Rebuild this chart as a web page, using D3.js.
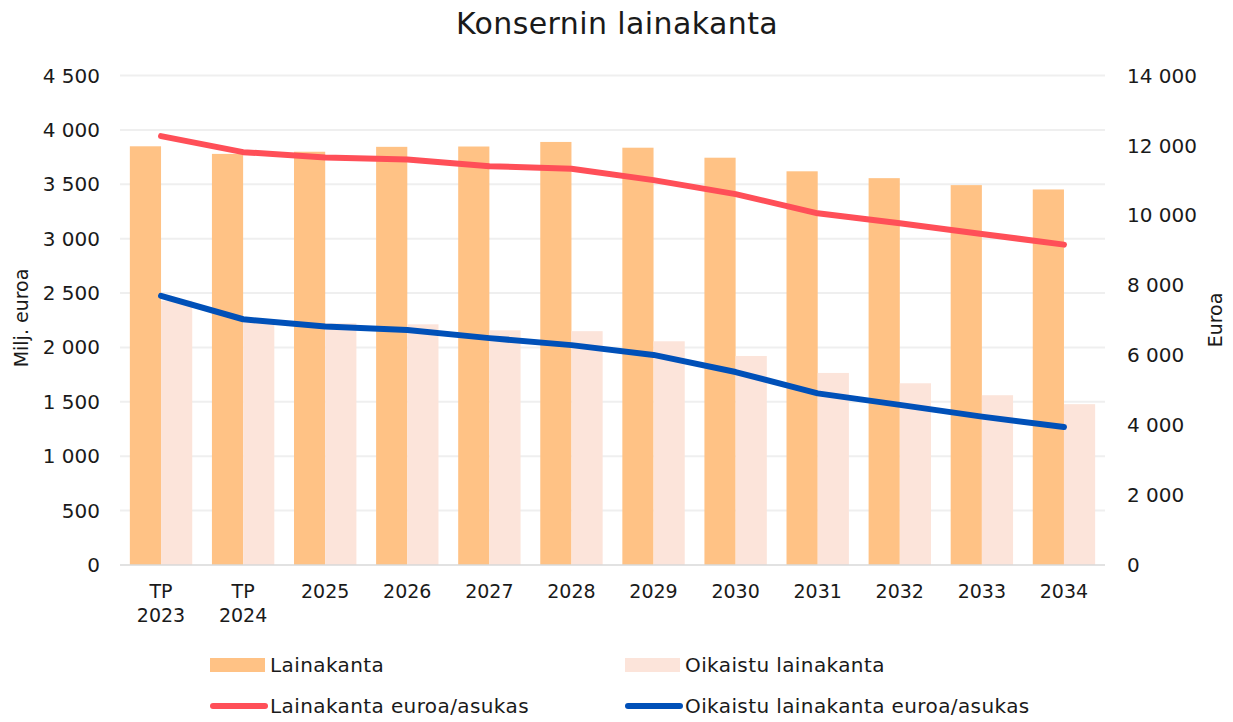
<!DOCTYPE html>
<html>
<head>
<meta charset="utf-8">
<script src="https://cdn.jsdelivr.net/npm/d3@7"></script>
<style>
  body { margin: 0; background: #fff; }
  svg { display: block; font-family: "DejaVu Sans", Inter, sans-serif; }
</style>
</head>
<body>
<div id="chart"></div>
<script>
// ── Data ────────────────────────────────────────────────────────
const categories = ['TP 2023', 'TP 2024', '2025', '2026', '2027', '2028', '2029', '2030', '2031', '2032', '2033', '2034'];
const lainakanta = [3850, 3780, 3800, 3845, 3848, 3890, 3837, 3745, 3620, 3557, 3493, 3453];
const oikaistuLainakanta = [2430, 2240, 2222, 2213, 2158, 2150, 2057, 1922, 1766, 1671, 1561, 1479];
const euroaAsukas = [12270, 11810, 11660, 11600, 11410, 11335, 11010, 10610, 10060, 9775, 9470, 9165];
const oikaistuEuroaAsukas = [7700, 7030, 6820, 6720, 6490, 6290, 6010, 5520, 4910, 4580, 4245, 3945];
const leftTicks = d3.range(0, 4501, 500);
const rightTicks = d3.range(0, 14001, 2000);

const COLORS = {
    bar: '#FFC285',
    barAdj: '#FCE4DA',
    line: '#FF4F58',
    lineAdj: '#0050B8',
    grid: '#EFEFEF',
    text: '#1a1a1a'
};

const width = 1233, height = 722;
const margin = { top: 75.6, right: 128, bottom: 157, left: 120 };
const plotW = width - margin.left - margin.right;
const plotH = height - margin.top - margin.bottom;

const svg = d3.select('#chart').append('svg')
    .attr('width', width)
    .attr('height', height);

// Title
svg.append('text')
    .attr('x', 617).attr('y', 34)
    .attr('text-anchor', 'middle')
    .attr('font-size', 30)
    .attr('letter-spacing', 0.4)
    .attr('fill', COLORS.text)
    .text('Konsernin lainakanta');

const g = svg.append('g').attr('transform', `translate(${margin.left},${margin.top})`);

// ── Scales ──────────────────────────────────────────────────────
const x = d3.scaleBand().domain(categories).range([0, plotW]).paddingInner(0.24).paddingOuter(0.12);
const xSub = d3.scaleBand().domain(['a', 'b']).range([0, x.bandwidth()]);
const yL = d3.scaleLinear().domain([0, 4500]).range([plotH, 0]);
const yR = d3.scaleLinear().domain([0, 14000]).range([plotH, 0]);
const fmt = v => d3.format(',')(v).replace(/,/g, ' ');

// Gridlines
g.selectAll('.grid')
    .data(leftTicks.slice(1))
    .join('line')
    .attr('x1', 0).attr('x2', plotW)
    .attr('y1', d => yL(d)).attr('y2', d => yL(d))
    .attr('stroke', COLORS.grid)
    .attr('stroke-width', 2);

// Left axis labels
g.selectAll('.yl')
    .data(leftTicks)
    .join('text')
    .attr('x', -20).attr('y', d => yL(d))
    .attr('dy', '0.35em')
    .attr('text-anchor', 'end')
    .attr('font-size', 20)
    .attr('fill', COLORS.text)
    .text(fmt);

// Right axis labels
g.selectAll('.yr')
    .data(rightTicks)
    .join('text')
    .attr('x', plotW + 22).attr('y', d => yR(d))
    .attr('dy', '0.35em')
    .attr('text-anchor', 'start')
    .attr('font-size', 20)
    .attr('fill', COLORS.text)
    .text(fmt);

// Axis titles
svg.append('text')
    .attr('transform', `translate(28,318) rotate(-90)`)
    .attr('text-anchor', 'middle')
    .attr('font-size', 19)
    .attr('fill', COLORS.text)
    .text('Milj. euroa');
svg.append('text')
    .attr('transform', `translate(1222,320) rotate(-90)`)
    .attr('text-anchor', 'middle')
    .attr('font-size', 19)
    .attr('fill', COLORS.text)
    .text('Euroa');

// ── Bars ────────────────────────────────────────────────────────
g.selectAll('.bar')
    .data(lainakanta)
    .join('rect')
    .attr('x', (d, i) => x(categories[i]) + xSub('a'))
    .attr('y', d => yL(d))
    .attr('width', xSub.bandwidth())
    .attr('height', d => plotH - yL(d))
    .attr('fill', COLORS.bar);

g.selectAll('.bar-adj')
    .data(oikaistuLainakanta)
    .join('rect')
    .attr('x', (d, i) => x(categories[i]) + xSub('b'))
    .attr('y', d => yL(d))
    .attr('width', xSub.bandwidth())
    .attr('height', d => plotH - yL(d))
    .attr('fill', COLORS.barAdj);

// Baseline
g.append('line')
    .attr('x1', 0).attr('x2', plotW)
    .attr('y1', plotH).attr('y2', plotH)
    .attr('stroke', '#D9D9D9')
    .attr('stroke-width', 1.5);

// ── Lines ───────────────────────────────────────────────────────
const line = d3.line()
    .x((d, i) => x(categories[i]) + x.bandwidth() / 2)
    .y(d => yR(d));

[[euroaAsukas, COLORS.line], [oikaistuEuroaAsukas, COLORS.lineAdj]].forEach(([vals, col]) => {
    g.append('path')
        .attr('d', line(vals))
        .attr('fill', 'none')
        .attr('stroke', col)
        .attr('stroke-width', 6)
        .attr('stroke-linecap', 'round')
        .attr('stroke-linejoin', 'round');
});

// ── X labels ────────────────────────────────────────────────────
categories.forEach(c => {
    const parts = c.split(' ');
    const t = g.append('text')
        .attr('x', x(c) + x.bandwidth() / 2)
        .attr('y', plotH + 33)
        .attr('text-anchor', 'middle')
        .attr('font-size', 19)
        .attr('fill', COLORS.text);
    parts.forEach((p, j) => {
        t.append('tspan')
            .attr('x', x(c) + x.bandwidth() / 2)
            .attr('dy', j === 0 ? 0 : 24)
            .text(p);
    });
});

// ── Legend ──────────────────────────────────────────────────────
const legend = [
    { label: 'Lainakanta', color: COLORS.bar, type: 'rect', x: 210, y: 665 },
    { label: 'Oikaistu lainakanta', color: COLORS.barAdj, type: 'rect', x: 625, y: 665 },
    { label: 'Lainakanta euroa/asukas', color: COLORS.line, type: 'line', x: 210, y: 706 },
    { label: 'Oikaistu lainakanta euroa/asukas', color: COLORS.lineAdj, type: 'line', x: 625, y: 706 }
];
legend.forEach(l => {
    if (l.type === 'rect') {
        svg.append('rect')
            .attr('x', l.x).attr('y', l.y - 7)
            .attr('width', 55).attr('height', 14)
            .attr('fill', l.color);
    } else {
        svg.append('line')
            .attr('x1', l.x + 3).attr('x2', l.x + 55)
            .attr('y1', l.y).attr('y2', l.y)
            .attr('stroke', l.color)
            .attr('stroke-width', 6)
            .attr('stroke-linecap', 'round');
    }
    svg.append('text')
        .attr('x', l.x + 60).attr('y', l.y)
        .attr('dy', '0.35em')
        .attr('font-size', 20)
        .attr('letter-spacing', 0.4)
        .attr('fill', COLORS.text)
        .text(l.label);
});
</script>
</body>
</html>
